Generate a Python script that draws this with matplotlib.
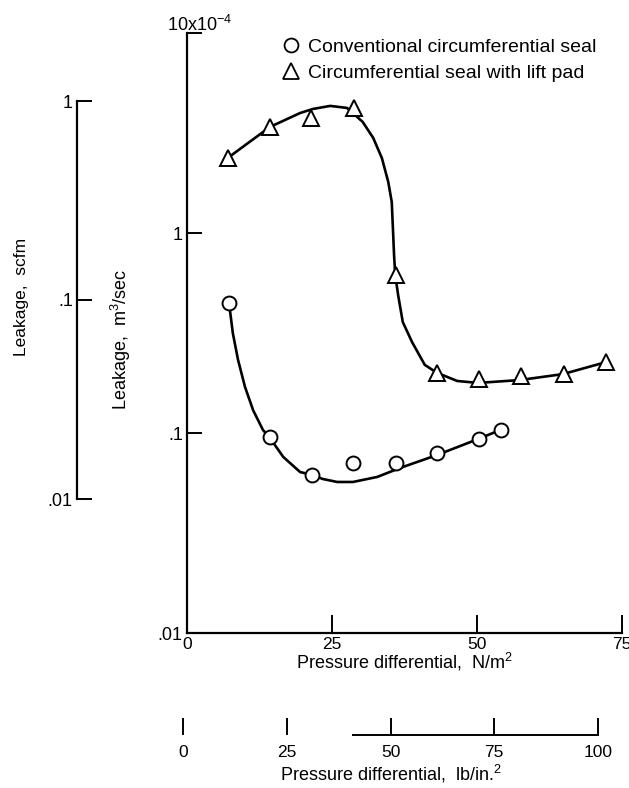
import matplotlib
matplotlib.use("Agg")
import matplotlib.pyplot as plt
from matplotlib.lines import Line2D

# leakage data (m^3/sec, in units of 1e-4)
circ_x = [7.2, 14.3, 21.6, 28.6, 36.0, 43.1, 50.3, 54.1]
circ_y = [0.447, 0.0955, 0.0617, 0.0708, 0.0708, 0.079, 0.0933, 0.1035]
tri_x = [7.0, 14.3, 21.4, 28.8, 36.0, 43.1, 50.3, 57.6, 65.0, 72.2]
tri_y = [2.37, 3.39, 3.76, 4.22, 0.617, 0.1995, 0.186, 0.193, 0.197, 0.226]

# hand drawn fairing curves
circ_curve_x = [7.2, 7.4, 7.9, 8.8, 10.0, 11.4, 13.1, 14.3, 16.6, 19.5, 21.6,
                23.4, 25.9, 28.6, 32.8, 36.7, 43.1, 50.2, 54.0]
circ_curve_y = [0.447, 0.412, 0.316, 0.232, 0.170, 0.130, 0.1035, 0.0944,
                0.0759, 0.0638, 0.0617, 0.0589, 0.0569, 0.0569, 0.0603, 0.0668,
                0.0776, 0.0933, 0.1035]
tri_curve_x = [7.0, 14.3, 19.5, 21.7, 24.7, 27.6, 28.6, 30.3, 32.1, 33.6, 34.7,
               35.3, 35.5, 35.7, 35.9, 36.4, 37.2, 38.8, 41.0, 43.1, 46.6, 50.2,
               57.4, 64.8, 72.2]
tri_curve_y = [2.37, 3.39, 3.98, 4.17, 4.32, 4.22, 3.98, 3.59, 2.99, 2.37, 1.80,
               1.43, 1.06, 0.776, 0.617, 0.49, 0.359, 0.285, 0.219, 0.20, 0.182,
               0.178, 0.184, 0.197, 0.226]

m3_ticks = [0.01, 0.1, 1, 10]
m3_labels = [".01", ".1", "1", ""]
scfm_ticks = [0.01, 0.1, 1]
scfm_labels = [".01", ".1", "1"]
npm_ticks = [0, 25, 50, 75]
psi_ticks = [0, 25, 50, 75, 100]

plt.rcParams['font.family'] = ['Liberation Sans', 'DejaVu Sans']
plt.rcParams['mathtext.fontset'] = 'custom'
plt.rcParams['mathtext.rm'] = 'Liberation Sans'
plt.rcParams['mathtext.it'] = 'Liberation Sans:italic'
plt.rcParams['font.size'] = 13

W, H = 629, 788
fig = plt.figure(figsize=(W / 100, H / 100), dpi=100)


def fx(px):
    return px / W


def fy(py):
    return 1 - py / H


# main axes
ax = fig.add_axes([fx(187), fy(633), fx(622) - fx(187), fy(33) - fy(633)])
ax.set_yscale('log')
ax.set_xlim(0, 75)
ax.set_ylim(0.01, 10)
for s in ['top', 'right']:
    ax.spines[s].set_visible(False)
for s in ['left', 'bottom']:
    ax.spines[s].set_linewidth(1.6)
ax.set_yticks(m3_ticks)
ax.set_yticklabels(m3_labels)
ax.yaxis.set_minor_locator(matplotlib.ticker.NullLocator())
ax.set_xticks(npm_ticks)
ax.tick_params(axis='y', direction='in', length=11, width=1.4, pad=3,
               labelsize=13)
ax.tick_params(axis='x', direction='in', length=13, width=1.4, pad=3,
               labelsize=12.5)
ax.set_xlabel("Pressure differential,  N/m$^2$")
ax.set_ylabel("Leakage,  m$^3$/sec")
ax.yaxis.set_label_coords(-0.124, 0.49)
ax.xaxis.set_label_coords(0.5, -0.03)

ax.plot(circ_curve_x, circ_curve_y, color='black', lw=1.9, zorder=2,
        solid_joinstyle='round')
ax.plot(tri_curve_x, tri_curve_y, color='black', lw=1.9, zorder=2,
        solid_joinstyle='round')
ax.plot(circ_x, circ_y, 'o', ms=10, mfc='white', mec='black', mew=1.4,
        zorder=3, clip_on=False)
ax.plot(tri_x, tri_y, '^', ms=11, mfc='white', mec='black', mew=1.4,
        zorder=3, clip_on=False)

fig.text(fx(167), fy(35), "10x10$^{-4}$", ha='left', va='bottom', fontsize=13)

handles = [Line2D([], [], ls='none', marker='o', ms=10, mfc='white', mec='black',
                  mew=1.3, label='Conventional circumferential seal'),
           Line2D([], [], ls='none', marker='^', ms=11, mfc='white', mec='black',
                  mew=1.3, label='Circumferential seal with lift pad')]
fig.legend(handles=handles, loc='upper left',
           bbox_to_anchor=(fx(282), fy(38)), frameon=False, borderpad=0,
           borderaxespad=0, handlelength=0.9, handletextpad=0.45,
           labelspacing=0.45, fontsize=14)

# scfm axis on the far left
ax2 = fig.add_axes([fx(77), fy(499), 0.02, fy(101) - fy(499)])
ax2.set_yscale('log')
ax2.set_ylim(0.01, 1)
ax2.patch.set_visible(False)
for s in ['top', 'right', 'bottom']:
    ax2.spines[s].set_visible(False)
ax2.spines['left'].set_linewidth(1.6)
ax2.set_xticks([])
ax2.set_yticks(scfm_ticks)
ax2.set_yticklabels(scfm_labels)
ax2.yaxis.set_minor_locator(matplotlib.ticker.NullLocator())
ax2.tick_params(axis='y', direction='in', length=11, width=1.4, pad=3,
                labelsize=13)
fig.text(fx(22), fy(297), "Leakage,  scfm", rotation=90, ha='center',
         va='center', fontsize=12.5)

# lb/in.^2 axis at the bottom
ax3 = fig.add_axes([fx(183), fy(735), fx(598) - fx(183), 0.001])
ax3.set_xlim(0, 100)
ax3.patch.set_visible(False)
for s in ['top', 'right', 'left']:
    ax3.spines[s].set_visible(False)
ax3.spines['bottom'].set_linewidth(1.4)
ax3.spines['bottom'].set_bounds(41, 100)
ax3.set_yticks([])
ax3.set_xticks(psi_ticks)
ax3.tick_params(axis='x', direction='in', length=12, width=1.4, pad=7,
                labelsize=12.5)
ax3.set_xlabel("Pressure differential,  lb/in.$^2$", labelpad=2)

fig.savefig("out.png", dpi=100)
